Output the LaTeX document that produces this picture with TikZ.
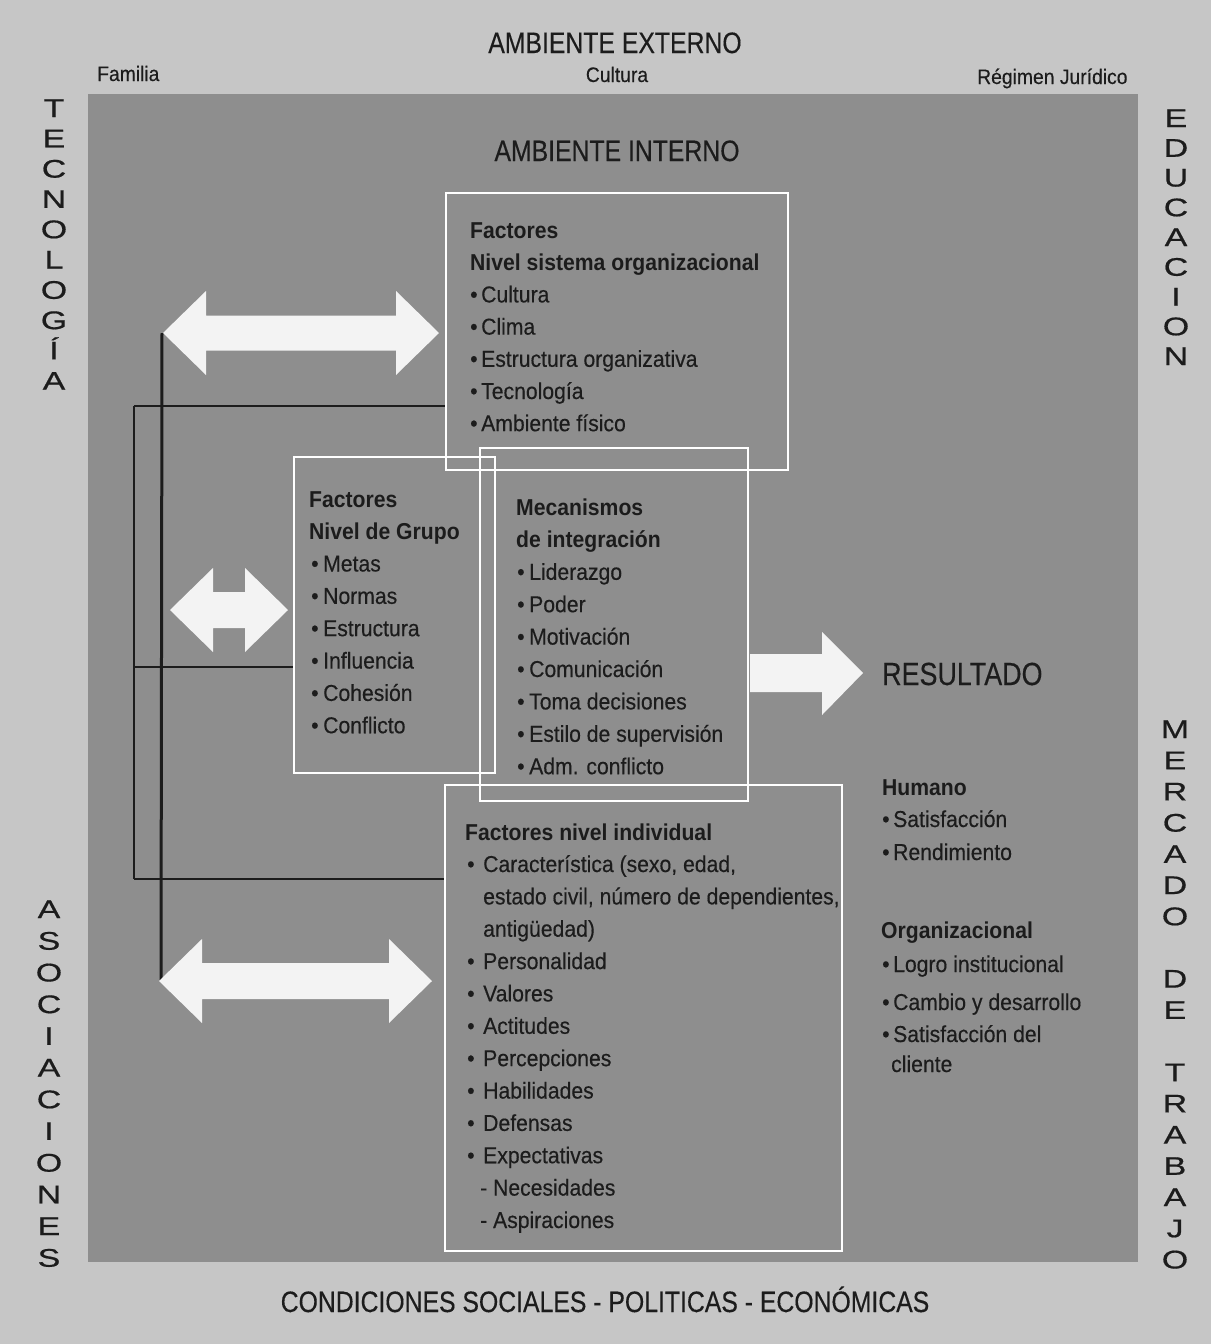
\documentclass[tikz,border=0pt]{standalone}
\usepackage{fontspec}
\setmainfont{Liberation Sans}
\newfontfamily\bodyf[FakeStretch=0.92,UprightFeatures={FakeBold=0.35}]{Liberation Sans}
\newfontfamily\capf[FakeStretch=0.84,FakeBold=0.3]{Liberation Sans}
\newfontfamily\widef[FakeStretch=1.33,FakeBold=0.6]{Liberation Sans}
\definecolor{outerbg}{HTML}{C6C6C6}
\definecolor{innerbg}{HTML}{8E8E8E}
\definecolor{ink}{HTML}{1C1C1C}
\definecolor{arrowfill}{HTML}{F3F3F3}
\newcommand\bu[1][11pt]{\makebox[#1][l]{•}}
% double block arrow: #1 left tip x, #2 right tip x, #3 centre y, #4 shaft half, #5 head half
\newcommand\dblblockarrow[5]{%
  \fill[arrowfill] (#1,#3) -- (#1+43,#3-#5) -- (#1+43,#3-#4) -- (#2-43,#3-#4)
    -- (#2-43,#3-#5) -- (#2,#3) -- (#2-43,#3+#5) -- (#2-43,#3+#4)
    -- (#1+43,#3+#4) -- (#1+43,#3+#5) -- cycle;}
\begin{document}
\begin{tikzpicture}[x=1pt,y=-1pt,
  txt/.style={inner sep=0pt, anchor=base west, text=ink, font=\bodyf\fontsize{23}{27}\selectfont},
  btxt/.style={inner sep=0pt, anchor=base west, text=ink, font=\bodyf\bfseries\fontsize{23}{27}\selectfont},
  headtxt/.style={inner sep=0pt, anchor=base, text=ink, font=\capf\fontsize{29.5}{34}\selectfont},
  smalltxt/.style={inner sep=0pt, text=ink, font=\bodyf\fontsize{21}{24}\selectfont},
  vlet/.style={inner sep=0pt, anchor=base, text=ink, font=\widef\fontsize{25.5}{30}\selectfont},
  wbox/.style={draw=white, line width=2pt, inner sep=0pt},
  thinline/.style={draw=ink, line width=1.3pt},
  thickline/.style={draw=ink, line width=3pt}
]
\useasboundingbox (0,0) rectangle (1211,1344);
\fill[outerbg] (0,0) rectangle (1211,1344);
\fill[innerbg] (88,94) rectangle (1138,1262);

% headings
\node[headtxt] (ambext) at (615,53) {AMBIENTE EXTERNO};
\node[smalltxt, anchor=base west] (familia) at (97,81) {Familia};
\node[smalltxt, anchor=base] (cultura) at (617,82) {Cultura};
\node[smalltxt, anchor=base west] (regimen) at (977,84) {Régimen Jurídico};
\node[headtxt] (ambint) at (617,161) {AMBIENTE INTERNO};
\node[headtxt] (condic) at (605,1312) {CONDICIONES SOCIALES - POLITICAS - ECONÓMICAS};

% vertical words
\foreach \l [count=\i from 0] in {T,E,C,N,O,L,O,G,Í,A}
  \node[vlet] (tec\i) at (54,117+30.3*\i) {\l};
\foreach \l [count=\i from 0] in {E,D,U,C,A,C,I,O,N}
  \node[vlet] (edu\i) at (1176,127+29.75*\i) {\l};
\foreach \l [count=\i from 0] in {A,S,O,C,I,A,C,I,O,N,E,S}
  \node[vlet] (aso\i) at (49,918+31.7*\i) {\l};
\foreach \l [count=\i from 0] in {M,E,R,C,A,D,O}
  \node[vlet] (mer\i) at (1175,738+31.2*\i) {\l};
\foreach \l [count=\i from 8] in {D,E}
  \node[vlet] (de\i) at (1175,738+31.2*\i) {\l};
\foreach \l [count=\i from 11] in {T,R,A,B,A,J,O}
  \node[vlet] (tra\i) at (1175,738+31.2*\i) {\l};

% connectors
\coordinate (jt) at (134,406);
\coordinate (jm) at (134,667);
\coordinate (jb) at (134,879);
\coordinate (tt) at (162,333);
\coordinate (tb) at (161,980);

% boxes
\node[wbox, minimum width=342, minimum height=277] (b1) at (617,331.5) {};
\node[wbox, minimum width=201, minimum height=316] (b2) at (394.5,615) {};
\node[wbox, minimum width=268, minimum height=353] (b3) at (614,624.5) {};
\node[wbox, minimum width=397, minimum height=466] (b4) at (643.5,1018) {};

\draw[thinline] (jt) -- (jb);
\draw[thinline] (jt) -- (jt -| b1.west);
\draw[thinline] (jm) -- (jm -| b2.west);
\draw[thinline] (jb) -- (jb -| b4.west);
\draw[thickline] (tt) -- (tb);

% block arrows
\dblblockarrow{163}{439}{333}{17.5}{42}
\dblblockarrow{170}{288}{610}{18}{42}
\dblblockarrow{159}{432}{981}{18}{42}
\fill[arrowfill] (750,654) -- (822,654) -- (822,632) -- (863,673) -- (822,715) -- (822,692) -- (750,692) -- cycle;

% box 1
\node[btxt] (o1) at (470,238) {Factores};
\node[btxt] (o2) at (470,270) {Nivel sistema organizacional};
\foreach \t [count=\i from 0] in {Cultura,Clima,Estructura organizativa,Tecnología,Ambiente físico}
  \node[txt] (org\i) at (470,302.4+32.2*\i) {\bu\t};

% box 2
\node[btxt] (g1) at (309,507) {Factores};
\node[btxt] (g2) at (309,539) {Nivel de Grupo};
\foreach \t [count=\i from 0] in {Metas,Normas,Estructura,Influencia,Cohesión,Conflicto}
  \node[txt] (grp\i) at (311,571.5+32.35*\i) {\bu[12pt]\t};

% box 3
\node[btxt] (m1) at (516,515) {Mecanismos};
\node[btxt] (m2) at (516,547.4) {de integración};
\foreach \t [count=\i from 0] in {Liderazgo,Poder,Motivación,Comunicación,Toma decisiones,Estilo de supervisión,Adm. conflicto}
  \node[txt] (mec\i) at (517,579.8+32.4*\i) {\bu[12pt]\t};

% box 4
\node[btxt] (i1) at (465,840) {Factores nivel individual};
\node[txt] (ind0) at (467,872) {\bu[16pt]Característica (sexo, edad,};
\node[txt] (ind1) at (483,904.4) {estado civil, número de dependientes,};
\node[txt] (ind2) at (483,936.7) {antigüedad)};
\foreach \t [count=\i from 3] in {Personalidad,Valores,Actitudes,Percepciones,Habilidades,Defensas,Expectativas}
  \node[txt] (ind\i) at (467,872+32.36*\i) {\bu[16pt]\t};
\node[txt] (ind10) at (480,1195.6) {- Necesidades};
\node[txt] (ind11) at (480,1228) {- Aspiraciones};

% result
\node[headtxt, anchor=base west, font=\capf\fontsize{32}{36}\selectfont] (res) at (882,685) {RESULTADO};
\node[btxt] (hum) at (882,795) {Humano};
\node[txt] (r1) at (882,827) {\bu Satisfacción};
\node[txt] (r2) at (882,860) {\bu Rendimiento};
\node[btxt] (orgz) at (881,938) {Organizacional};
\node[txt] (r3) at (882,972) {\bu Logro institucional};
\node[txt] (r4) at (882,1010) {\bu Cambio y desarrollo};
\node[txt] (r5) at (882,1042) {\bu Satisfacción del};
\node[txt] (r6) at (891,1072) {cliente};
\end{tikzpicture}
\end{document}
